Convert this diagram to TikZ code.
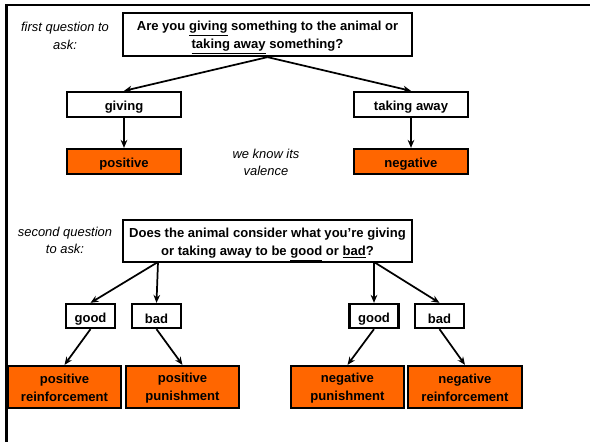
\documentclass[tikz,border=0pt]{standalone}
\usepackage{fontspec}
\setmainfont{Liberation Sans}
\usepackage{tikz}
\usetikzlibrary{arrows.meta}
\definecolor{boxorange}{HTML}{FF6600}

\tikzset{
    qbox/.style={draw, line width=1.7pt, fill=white, align=center, inner sep=0pt,
        text height=11.5pt, font=\fontsize{9.8}{13.5}\selectfont\bfseries},
    twoline/.style={text height=#1},
    outbox/.style={qbox, fill=boxorange},
    note/.style={align=center, font=\fontsize{9.7}{13.3}\selectfont\itshape},
    arr/.style={-{Stealth[length=6pt,width=5pt]}, line width=1.3pt}
}

\begin{document}
\begin{tikzpicture}[x=0.75pt,y=-0.75pt]
    \useasboundingbox (0,0) rectangle (590,442);
    % Frame
    \draw[line width=1.8pt] (590,5) -- (6.5,5) -- (6.5,442);

    % Define nodes
    \node[note] (ask1) at (65,36) {first question to\\ask:};
    \node[qbox, twoline=25.7pt, minimum width=289*0.75pt, minimum height=43*0.75pt] (q1) at (267.5,34.5)
        {Are you \underline{giving} something to the animal or\\\underline{taking away} something?};

    \node[qbox, minimum width=114*0.75pt, minimum height=25*0.75pt] (giving) at (124,104.5) {giving};
    \node[qbox, minimum width=114*0.75pt, minimum height=25*0.75pt] (taking) at (411,104.5) {taking away};

    \node[outbox, minimum width=114*0.75pt, minimum height=25*0.75pt] (pos) at (124,161.5) {positive};
    \node[outbox, minimum width=114*0.75pt, minimum height=25*0.75pt] (neg) at (411,161.5) {negative};
    \node[note] (valence) at (266,162.5) {we know its\\valence};

    \node[note] (ask2) at (65,240.5) {second question\\to ask:};
    \node[qbox, twoline=25.7pt, minimum width=289*0.75pt, minimum height=42*0.75pt] (q2) at (267.5,241)
        {Does the animal consider what you’re giving\\or taking away to be \underline{good} or \underline{bad}?};
    \coordinate (q2l) at (158,262);
    \coordinate (q2r) at (374,262);

    \node[qbox, minimum width=49*0.75pt, minimum height=24*0.75pt] (good1) at (90.5,316) {good};
    \node[qbox, minimum width=49*0.75pt, minimum height=24*0.75pt] (bad1) at (156.5,316) {bad};
    \node[qbox, minimum width=49*0.75pt, minimum height=24*0.75pt] (good2) at (374,316) {good};
    \node[qbox, minimum width=49*0.75pt, minimum height=24*0.75pt] (bad2) at (439.5,316) {bad};

    \node[outbox, twoline=22pt, minimum width=113*0.75pt, minimum height=42*0.75pt] (posrein) at (64.5,387) {positive\\reinforcement};
    \node[outbox, twoline=22pt, minimum width=113*0.75pt, minimum height=42*0.75pt] (pospun) at (182.5,387) {positive\\punishment};
    \node[outbox, twoline=22pt, minimum width=113*0.75pt, minimum height=42*0.75pt] (negpun) at (347.5,387) {negative\\punishment};
    \node[outbox, twoline=22pt, minimum width=114*0.75pt, minimum height=42*0.75pt] (negrein) at (465,387) {negative\\reinforcement};

    % Draw arrows
    \draw[arr] (q1.south) -- (giving.north);
    \draw[arr] (q1.south) -- (taking.north);
    \draw[arr] (giving) -- (pos);
    \draw[arr] (taking) -- (neg);

    \draw[arr] (q2l) -- (good1.north);
    \draw[arr] (q2l) -- (bad1.north);
    \draw[arr] (q2r) -- (good2.north);
    \draw[arr] (q2r) -- (bad2.north);

    \draw[arr] (good1.south) -- (posrein.north);
    \draw[arr] (bad1.south) -- (pospun.north);
    \draw[arr] (good2.south) -- (negpun.north);
    \draw[arr] (bad2.south) -- (negrein.north);
\end{tikzpicture}
\end{document}
